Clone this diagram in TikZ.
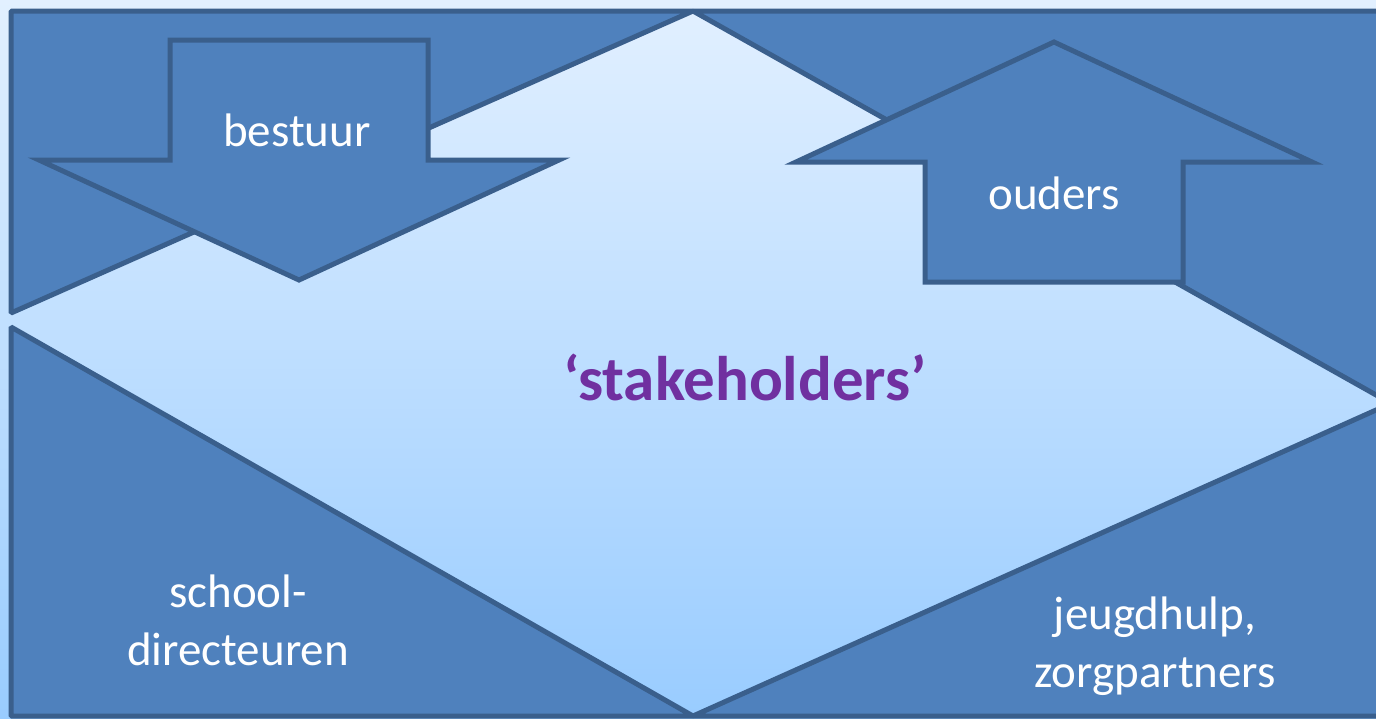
\documentclass[tikz,border=0pt]{standalone}
\usepackage{fontspec}
\setmainfont{Carlito}
\definecolor{blokblauw}{HTML}{4F81BD}
\definecolor{randblauw}{HTML}{3A5F8C}
\definecolor{lichtboven}{HTML}{E2F0FF}
\definecolor{lichtonder}{HTML}{99CCFF}
\definecolor{paars}{HTML}{7030A0}
\tikzset{
  vlak/.style={fill=blokblauw,draw=randblauw,line width=5pt,line join=bevel},
  pijl/.style={fill=blokblauw,draw=randblauw,line width=5pt,line join=miter},
  tekst/.style={text=white,font=\fontsize{47}{58}\selectfont,align=center,inner sep=0pt}
}
\begin{document}
\begin{tikzpicture}[x=1pt,y=-1pt]
\useasboundingbox (0,0) rectangle (1376,718);
\clip (0,0) rectangle (1376,718);
%achtergrond
\shade[top color=lichtboven,bottom color=lichtonder] (0,0) rectangle (1376,718);
%hoeken
\draw[vlak] (11,11)--(693,11)--(11,313)--cycle;
\draw[vlak] (693,11)--(1385,11)--(1385,400)--cycle;
\draw[vlak] (11,327)--(693,716)--(11,716)--cycle;
\draw[vlak] (693,716)--(1385,406)--(1385,716)--cycle;
%pijlen
\pgfmathsetmacro{\ml}{299}  
\pgfmathsetmacro{\mr}{1054}  
\draw[pijl] (\ml-129,40)--(\ml+129,40)--(\ml+129,160)--(\ml+260,160)--(\ml,280)
  --(\ml-260,160)--(\ml-129,160)--cycle;
\draw[pijl] (\mr-129,282)--(\mr-129,162)--(\mr-258,162)--(\mr,42)--(\mr+258,162)
  --(\mr+129,162)--(\mr+129,282)--cycle;
%teksten
\node[tekst,anchor=base] (bestuur) at (\ml-2,146) {bestuur};
\node[tekst,anchor=base] (ouders) at (\mr,209) {ouders};
\node[tekst,anchor=base,text=paars,font=\fontsize{63}{70}\selectfont\bfseries] (stake) at (745,400) {‘stakeholders’};
\node[tekst,anchor=base] (school) at (238,665) {school-\\directeuren};
\node[tekst,anchor=base] (zorg) at (1155,687) {jeugdhulp,\\zorgpartners};
\end{tikzpicture}
\end{document}
